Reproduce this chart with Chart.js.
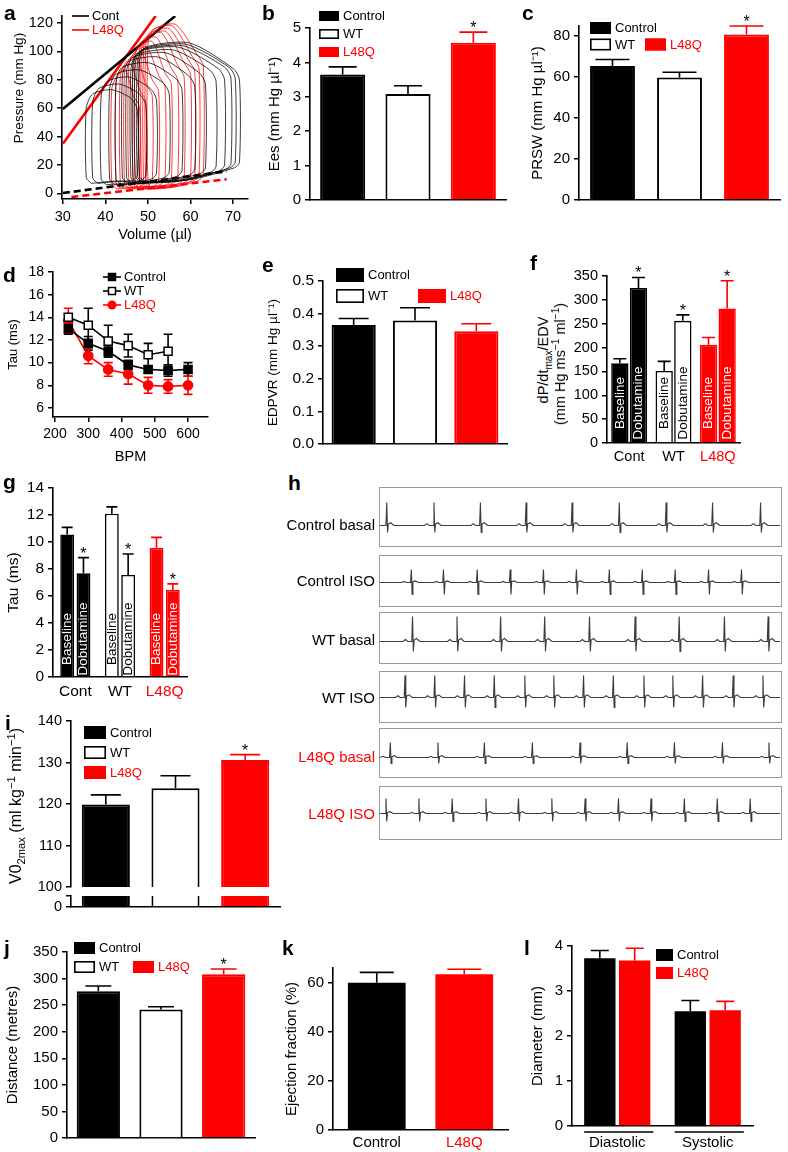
<!DOCTYPE html>
<html>
<head>
<meta charset="utf-8">
<title>L48Q cardiac function</title>
<script src="https://cdn.jsdelivr.net/npm/chart.js@4.4.1/dist/chart.umd.min.js"></script>
<style>
  html, body { margin: 0; padding: 0; background: #fff; }
  body { position: relative; width: 788px; height: 1152px; overflow: hidden;
         font-family: "Liberation Sans", Arial, Helvetica, sans-serif; color: #000; }
  .letter { position: absolute; font-weight: bold; font-size: 21px; line-height: 21px; }
  .vtitle { position: absolute; white-space: nowrap; transform: translate(-50%, -50%) rotate(-90deg); }
  .vtitle sub, .vtitle sup { font-size: 70%; line-height: 0; }
  .ecgbox { position: absolute; border: 1.5px solid #9a9a9a; box-sizing: border-box; }
  .ecgbox canvas { position: absolute; left: 0; top: 0; }
  .ecglabel { position: absolute; left: 0; width: 375px; text-align: right; font-size: 15px; line-height: 18px; white-space: nowrap; }
</style>
</head>
<body>
<script>
const FONT = '"Liberation Sans", Arial, Helvetica, sans-serif';
const RED = '#ff0000';

// shared groups
const groups = ['Control', 'WT', 'L48Q'];
const groupShort = ['Cont', 'WT', 'L48Q'];
const groupFill = ['#000000', '#ffffff', RED];
const groupEdge = ['#000000', '#000000', RED];
const groupInk = ['#000000', '#000000', RED];

// a: PV loops (one entry per loop) and fitted relations
const contESV = [48, 47.5, 47, 46.5, 46, 45, 44, 42.5, 41, 39, 37, 35.5];
const contEDV = [71.5, 70.5, 69.5, 68, 66, 63.5, 61, 58, 55, 52, 49.5, 47.5];
const contESP = [103, 102, 101, 100, 98, 96, 93, 89, 84, 79, 74, 70];
const contOpen = [85, 86, 86, 85, 84, 82, 80, 78, 75, 71, 67, 64];
const contEDP = [19, 19, 18, 17, 16, 15, 14, 13, 12, 11, 10, 10];
const contMin = [8, 8, 8, 7, 7, 7, 7, 6, 6, 6, 7, 7];
const l48qESV = [50, 49.5, 49, 48.5, 48, 47, 46.5, 45.5, 44.5, 43.5, 42.5, 41.5];
const l48qEDV = [63, 62, 61, 60, 58.5, 57, 55.5, 54, 52.5, 51, 49.5, 48];
const l48qESP = [116, 115, 113, 111, 110, 107, 104, 100, 96, 93, 88, 84];
const l48qOpen = [95, 93, 91, 89, 87, 85, 82, 80, 77, 74, 70, 66];
const l48qEDP = [10, 10, 9, 9, 8, 8, 7, 7, 6, 6, 6, 5];
const l48qMin = [3, 3, 3, 3, 3, 3, 3, 3, 3, 3, 3, 3];
const espvrContV = [30, 56.4], espvrContP = [59.5, 125];
const espvrL48qV = [30, 51.8], espvrL48qP = [35, 125];
const edpvrContV = [30, 68.5], edpvrContP = [0.2, 15.5];
const edpvrL48qV = [32, 68.5], edpvrL48qP = [-2.6, 9.9];
const pvVolTicks = [30, 40, 50, 60, 70];
const pvPresTicks = [0, 20, 40, 60, 80, 100, 120];

// b
const eesMean = [3.65, 3.08, 4.57], eesErr = [0.22, 0.24, 0.31], eesSig = [false, false, true];
const eesTicks = [0, 1, 2, 3, 4, 5];
// c
const prswMean = [65.4, 59.8, 80.8], prswErr = [3.2, 2.6, 4.2], prswSig = [false, false, true];
const prswTicks = [0, 20, 40, 60, 80];
// d
const bpm = [240, 300, 360, 420, 480, 540, 600];
const tauCont = [13.0, 11.7, 11.0, 9.8, 9.4, 9.3, 9.4];
const tauContErr = [0.5, 0.6, 0.5, 0.4, 0.3, 0.5, 0.6];
const tauWT = [14.0, 13.3, 11.9, 11.5, 10.7, 11.0];
const tauWTErr = [0.3, 1.5, 1.4, 1.0, 1.0, 1.5];
const tauL48q = [13.7, 10.6, 9.4, 9.0, 8.0, 7.9, 8.0];
const tauL48qErr = [1.1, 0.7, 0.6, 0.9, 0.7, 0.6, 0.8];
const tauTicks = [6, 8, 10, 12, 14, 16, 18];
const bpmTicks = [200, 300, 400, 500, 600];
// e
const edpvrMean = [0.365, 0.379, 0.346], edpvrErr = [0.020, 0.039, 0.023];
const edpvrTicks = [0, 0.1, 0.2, 0.3, 0.4, 0.5];
const edpvrTickLabels = ['0.0', '0.1', '0.2', '0.3', '0.4', '0.5'];
// f
const dpdtBase = [167, 151, 206], dpdtBaseErr = [9.5, 20, 15];
const dpdtDob = [325, 256, 282], dpdtDobErr = [22, 12.5, 58];
const dpdtTicks = [0, 50, 100, 150, 200, 250, 300, 350];
// g
const tauBase = [10.56, 12.1, 9.57], tauBaseErr = [0.52, 0.5, 0.77];
const tauDob = [7.68, 7.56, 6.45], tauDobErr = [1.16, 1.55, 0.45];
const tauGTicks = [0, 2, 4, 6, 8, 10, 12, 14];
// h: R-peak times (ms) in each 1 s strip, R and S amplitudes
const ecgRows = ['Control basal', 'Control ISO', 'WT basal', 'WT ISO', 'L48Q basal', 'L48Q ISO'];
const ecgBeats = [
  [17, 136, 253, 368, 484, 603, 721, 838, 959],
  [79, 160, 245, 328, 412, 495, 578, 661, 744, 828, 911],
  [82, 194, 304, 415, 528, 643, 754, 868, 978],
  [63, 138, 213, 288, 365, 438, 513, 588, 665, 738, 813, 890, 965],
  [26, 146, 263, 384, 504, 623, 742, 863, 980],
  [15, 98, 182, 267, 349, 433, 517, 601, 683, 767, 850, 933]
];
const ecgUp = [23, 13, 25, 22, 15, 15];
const ecgDown = [7, 12, 10, 10, 6, 8];
// i
const vo2Mean = [119.9, 123.8, 130.6], vo2Err = [2.3, 3.0, 1.3], vo2Sig = [false, false, true];
const vo2Ticks = [100, 110, 120, 130, 140];
// j
const distMean = [276, 242, 308], distErr = [10, 5, 10], distSig = [false, false, true];
const distTicks = [0, 50, 100, 150, 200, 250, 300, 350];
// k
const efGroups = ['Control', 'L48Q'];
const efMean = [60, 63.5], efErr = [4.2, 2.0];
const efTicks = [0, 20, 40, 60];
// l
const diamPhase = ['Diastolic', 'Systolic'];
const diamCont = [3.73, 2.55], diamContErr = [0.17, 0.24];
const diamL48q = [3.68, 2.57], diamL48qErr = [0.27, 0.20];
const diamTicks = [0, 1, 2, 3, 4];

Chart.defaults.font.family = FONT;
Chart.defaults.color = '#000';
Chart.defaults.animation = false;
Chart.defaults.responsive = false;
Chart.defaults.events = [];
Chart.defaults.plugins.legend.display = false;
Chart.defaults.plugins.tooltip.enabled = false;

// error bars + significance stars, drawn under the marks
Chart.register({
  id: 'errorBars',
  beforeDatasetsDraw(chart) {
    const ctx = chart.ctx, ys = chart.scales.y;
    chart.data.datasets.forEach((ds, di) => {
      if (!ds.errors) return;
      chart.getDatasetMeta(di).data.forEach((el, i) => {
        const e = ds.errors[i];
        if (e == null) return;
        const raw = ds.data[i];
        const v = typeof raw === 'object' ? raw.y : raw;
        const col = Array.isArray(ds.errorColor) ? ds.errorColor[i] : ds.errorColor;
        const yTop = ys.getPixelForValue(v + e);
        const yBot = ds.errorBoth ? ys.getPixelForValue(v - e) : el.y;
        const half = ds.capWidth / 2;
        ctx.save();
        ctx.strokeStyle = col;
        ctx.lineWidth = 1.6;
        ctx.beginPath();
        ctx.moveTo(el.x, yBot); ctx.lineTo(el.x, yTop);
        ctx.moveTo(el.x - half, yTop); ctx.lineTo(el.x + half, yTop);
        if (ds.errorBoth) { ctx.moveTo(el.x - half, yBot); ctx.lineTo(el.x + half, yBot); }
        ctx.stroke();
        if (ds.stars && ds.stars[i]) {
          ctx.fillStyle = '#000';
          ctx.font = '16px ' + FONT;
          ctx.textAlign = 'center';
          ctx.textBaseline = 'alphabetic';
          ctx.fillText('*', el.x, yTop + 1);
        }
        ctx.restore();
      });
    });
  }
});

// rotated dataset names inside bars (panels f, g)
Chart.register({
  id: 'barText',
  afterDatasetsDraw(chart, args, opts) {
    if (!opts.on) return;
    const ctx = chart.ctx, base = chart.chartArea.bottom;
    chart.data.datasets.forEach((ds, di) => {
      chart.getDatasetMeta(di).data.forEach((el, i) => {
        const fill = Array.isArray(ds.backgroundColor) ? ds.backgroundColor[i] : ds.backgroundColor;
        ctx.save();
        ctx.translate(el.x, base - opts.lift);
        ctx.rotate(-Math.PI / 2);
        ctx.font = opts.size + 'px ' + FONT;
        ctx.fillStyle = fill === '#ffffff' ? '#000' : '#fff';
        ctx.textAlign = 'center';
        ctx.textBaseline = 'middle';
        ctx.fillText(ds.label, 0, 0);
        ctx.restore();
      });
    });
  }
});

// underline under each group of bars (panel l)
Chart.register({
  id: 'underline',
  afterDraw(chart, args, opts) {
    if (!opts.on) return;
    const ctx = chart.ctx, n = chart.data.datasets.length;
    const first = chart.getDatasetMeta(0).data, last = chart.getDatasetMeta(n - 1).data;
    const y = chart.chartArea.bottom + opts.gap;
    ctx.save();
    ctx.strokeStyle = '#000';
    ctx.lineWidth = 1.6;
    first.forEach((el, i) => {
      ctx.beginPath();
      ctx.moveTo(el.x - el.width / 2, y);
      ctx.lineTo(last[i].x + last[i].width / 2 + 3, y);
      ctx.stroke();
    });
    ctx.restore();
  }
});

// keys placed at page coordinates
Chart.register({
  id: 'key',
  afterDraw(chart, args, opts) {
    if (!opts.items) return;
    const ctx = chart.ctx, r = chart.canvas.getBoundingClientRect();
    ctx.save();
    ctx.font = '13px ' + FONT;
    ctx.textBaseline = 'middle';
    opts.items.forEach(it => {
      const x = it.x - r.left, y = it.y - r.top;
      if (it.kind === 'box') {
        ctx.fillStyle = it.fill;
        ctx.fillRect(x, y, it.w, it.h);
        ctx.strokeStyle = it.stroke;
        ctx.lineWidth = 1.6;
        ctx.strokeRect(x + 0.8, y + 0.8, it.w - 1.6, it.h - 1.6);
        ctx.fillStyle = it.color;
        ctx.fillText(it.text, x + it.w + 4, y + it.h / 2 + 0.5);
      } else {
        ctx.strokeStyle = it.stroke;
        ctx.lineWidth = 1.6;
        ctx.beginPath(); ctx.moveTo(x, y); ctx.lineTo(x + it.w, y); ctx.stroke();
        const mx = x + it.w / 2;
        if (it.marker === 'rect') {
          ctx.fillStyle = it.fill;
          ctx.fillRect(mx - 4, y - 4, 8, 8);
          ctx.lineWidth = 1.5;
          ctx.strokeRect(mx - 3.5, y - 3.5, 7, 7);
        } else if (it.marker === 'circle') {
          ctx.fillStyle = it.fill;
          ctx.beginPath(); ctx.arc(mx, y, 4.5, 0, Math.PI * 2); ctx.fill();
        }
        ctx.fillStyle = it.color;
        ctx.fillText(it.text, x + it.w + 3, y + 0.5);
      }
    });
    ctx.restore();
  }
});

function mount(f, type, data, options) {
  const left = f.L - f.yw, top = f.T - f.pt;
  const w = Math.round(f.R + f.pr - left), h = Math.round(f.B + f.xh - top);
  const cv = document.createElement('canvas');
  cv.width = w; cv.height = h;
  Object.assign(cv.style, {position: 'absolute', left: left + 'px', top: top + 'px', width: w + 'px', height: h + 'px'});
  document.body.appendChild(cv);
  options.layout = {padding: {top: f.pt, right: f.pr, left: 0, bottom: 0}};
  options.scales.y.afterFit = s => { s.width = f.yw; s.paddingTop = 0; s.paddingBottom = 0; };
  options.scales.x.afterFit = s => { s.height = f.xh; s.paddingLeft = 0; s.paddingRight = 0; };
  return new Chart(cv, {type, data, options});
}

function valueAxis(min, max, values, size, title, titleSize, labels) {
  return {
    type: 'linear', min, max,
    afterBuildTicks: s => { s.ticks = values.map(v => ({value: v})); },
    ticks: {font: {size}, color: '#000', padding: 4, autoSkip: false,
            callback: (v, i) => labels ? labels[i] : String(values[i])},
    grid: {display: true, drawOnChartArea: false, drawTicks: true, tickLength: 5, color: '#000', lineWidth: 1.5},
    border: {display: true, color: '#000', width: 1.6},
    title: title ? {display: true, text: title, font: {size: titleSize}, color: '#000', padding: 0} : {display: false}
  };
}

function groupAxis(labelSize, inks, pad) {
  return {
    type: 'category', offset: true,
    grid: {display: false, drawTicks: false},
    border: {display: true, color: '#000', width: 1.6},
    ticks: labelSize ? {display: true, font: {size: labelSize}, padding: pad, autoSkip: false, maxRotation: 0,
                        color: c => inks[c.index]} : {display: false}
  };
}

function boxKey(idx, pos, w, h) {
  return idx.map((g, k) => ({kind: 'box', x: pos[k][0], y: pos[k][1], w, h,
    fill: groupFill[g], stroke: groupEdge[g], color: groupInk[g], text: groups[g]}));
}

function groupBars(values, errs, sig, cap, pct) {
  return {data: values, errors: errs, stars: sig, errorColor: groupEdge, capWidth: cap,
          backgroundColor: groupFill, borderColor: groupEdge, borderWidth: 2, borderSkipped: 'start',
          barPercentage: pct, categoryPercentage: 1};
}

function loopPath(esv, edv, esp, open, edp, pmin) {
  const mid = (esv + edv) / 2;
  return [
    {x: esv + 1.2, y: pmin}, {x: mid, y: pmin + 1.5}, {x: edv - 1.2, y: edp - 1},
    {x: edv, y: edp + 3}, {x: edv, y: open - 5}, {x: edv - 1.5, y: open + 3},
    {x: mid, y: esp + 3}, {x: esv + 1.5, y: esp}, {x: esv, y: esp - 10},
    {x: esv, y: pmin + 4}, {x: esv + 1.2, y: pmin}
  ];
}

// ---------- a ----------
const pvSets = [];
contESV.forEach((v, i) => pvSets.push({data: loopPath(v, contEDV[i], contESP[i], contOpen[i], contEDP[i], contMin[i]),
  showLine: true, borderColor: 'rgba(0,0,0,0.85)', borderWidth: 0.9, pointRadius: 0, tension: 0.25}));
l48qESV.forEach((v, i) => pvSets.push({data: loopPath(v, l48qEDV[i], l48qESP[i], l48qOpen[i], l48qEDP[i], l48qMin[i]),
  showLine: true, borderColor: 'rgba(255,0,0,0.85)', borderWidth: 0.9, pointRadius: 0, tension: 0.25}));
const relLine = (V, P, col, dash) => ({data: V.map((v, i) => ({x: v, y: P[i]})), showLine: true,
  borderColor: col, borderWidth: 2.6, borderDash: dash, pointRadius: 0});
pvSets.push(relLine(edpvrContV, edpvrContP, '#000', [7, 4]), relLine(edpvrL48qV, edpvrL48qP, RED, [7, 4]),
            relLine(espvrContV, espvrContP, '#000', []), relLine(espvrL48qV, espvrL48qP, RED, []));
mount({L: 62, T: 16, R: 248, B: 199, yw: 52, xh: 45, pt: 12, pr: 8}, 'scatter', {datasets: pvSets}, {
  scales: {
    x: valueAxis(29.8, 73.5, pvVolTicks, 14.5, 'Volume (µl)', 14.5),
    y: valueAxis(-4, 125, pvPresTicks, 14.5)
  },
  plugins: {key: {items: [
    {kind: 'line', x: 72, y: 16, w: 17, stroke: '#000', color: '#000', text: 'Cont'},
    {kind: 'line', x: 72, y: 30, w: 17, stroke: RED, color: RED, text: 'L48Q'}
  ]}}
});

// ---------- b ----------
mount({L: 310, T: 28, R: 506, B: 200, yw: 44, xh: 11, pt: 28, pr: 4}, 'bar',
  {labels: groups, datasets: [groupBars(eesMean, eesErr, eesSig, 28, 0.69)]}, {
  scales: {x: groupAxis(0), y: valueAxis(0, 5, eesTicks, 15, 'Ees (mm Hg µl⁻¹)', 15)},
  plugins: {key: {items: boxKey([0, 1, 2], [[319, 11], [319, 29], [319, 47]], 20, 10)}}
});

// ---------- c ----------
mount({L: 579, T: 26, R: 780, B: 200, yw: 50, xh: 11, pt: 26, pr: 5}, 'bar',
  {labels: groups, datasets: [groupBars(prswMean, prswErr, prswSig, 34, 0.67)]}, {
  scales: {x: groupAxis(0), y: valueAxis(0, 85, prswTicks, 15, 'PRSW (mm Hg µl⁻¹)', 15)},
  plugins: {key: {items: boxKey([0, 1, 2], [[590, 22], [590, 38.5], [645, 38.5]], 21, 12)}}
});

// ---------- d ----------
const tauLine = (vals, errs, col, style, fill) => ({
  data: vals.map((v, i) => ({x: bpm[i], y: v})), errors: errs, errorBoth: true, errorColor: col, capWidth: 9,
  showLine: true, borderColor: col, borderWidth: 1.6, pointStyle: style, pointRadius: style === 'rect' ? 5.7 : 4.6,
  pointBackgroundColor: fill, pointBorderColor: col, pointBorderWidth: 1.5
});
mount({L: 53, T: 272, R: 208, B: 417, yw: 47, xh: 49, pt: 12, pr: 10}, 'scatter', {datasets: [
  tauLine(tauCont, tauContErr, '#000', 'rect', '#000'),
  tauLine(tauWT, tauWTErr, '#000', 'rect', '#fff'),
  tauLine(tauL48q, tauL48qErr, RED, 'circle', RED)
]}, {
  scales: {
    x: valueAxis(194, 660, bpmTicks, 14, 'BPM', 14.5),
    y: valueAxis(5.2, 18, tauTicks, 14, 'Tau (ms)', 13)
  },
  plugins: {key: {items: [
    {kind: 'line', x: 103, y: 277, w: 18, stroke: '#000', fill: '#000', marker: 'rect', color: '#000', text: groups[0]},
    {kind: 'line', x: 103, y: 291, w: 18, stroke: '#000', fill: '#fff', marker: 'rect', color: '#000', text: groups[1]},
    {kind: 'line', x: 103, y: 305, w: 18, stroke: RED, fill: RED, marker: 'circle', color: RED, text: groups[2]}
  ]}}
});

// ---------- e ----------
mount({L: 323, T: 281, R: 507, B: 444, yw: 58, xh: 11, pt: 21, pr: 5}, 'bar',
  {labels: groups, datasets: [groupBars(edpvrMean, edpvrErr, null, 30, 0.72)]}, {
  scales: {x: groupAxis(0), y: valueAxis(0, 0.5, edpvrTicks, 15.5, 'EDPVR (mm Hg µl⁻¹)', 13.5, edpvrTickLabels)},
  plugins: {key: {items: boxKey([0, 1, 2], [[336, 268], [336, 289], [418, 289]], 28, 14)}}
});

// ---------- f ----------
const pairBars = (label, vals, errs, sig, cap, bp, cp) => ({label, data: vals, errors: errs, stars: sig,
  errorColor: groupEdge, capWidth: cap, backgroundColor: groupFill, borderColor: groupEdge, borderWidth: 1.6,
  borderSkipped: 'start', barPercentage: bp, categoryPercentage: cp});
mount({L: 607, T: 276, R: 740, B: 443, yw: 40, xh: 26, pt: 20, pr: 5}, 'bar', {labels: groupShort, datasets: [
  pairBars('Baseline', dpdtBase, dpdtBaseErr, [false, false, false], 13, 0.93, 0.84),
  pairBars('Dobutamine', dpdtDob, dpdtDobErr, [true, true, true], 13, 0.93, 0.84)
]}, {
  scales: {x: groupAxis(14.5, groupInk, 5), y: valueAxis(0, 350, dpdtTicks, 14.5)},
  plugins: {barText: {on: true, lift: 40, size: 13.5}}
});

// ---------- g ----------
mount({L: 53, T: 488, R: 187, B: 677, yw: 49, xh: 26, pt: 12, pr: 5}, 'bar', {labels: groupShort, datasets: [
  pairBars('Baseline', tauBase, tauBaseErr, [false, false, false], 11, 0.85, 0.73),
  pairBars('Dobutamine', tauDob, tauDobErr, [true, true, true], 11, 0.85, 0.73)
]}, {
  scales: {x: groupAxis(15.5, groupInk, 5), y: valueAxis(0, 14, tauGTicks, 15.5, 'Tau (ms)', 15.5)},
  plugins: {barText: {on: true, lift: 38, size: 13.5}}
});

// ---------- i (broken axis: upper and lower segments) ----------
mount({L: 71, T: 721, R: 280, B: 887, yw: 41, xh: 9, pt: 10, pr: 5}, 'bar',
  {labels: groups, datasets: [groupBars(vo2Mean, vo2Err, vo2Sig, 30, 0.69)]}, {
  scales: {x: Object.assign(groupAxis(0), {border: {display: false}}), y: valueAxis(100, 140, vo2Ticks, 14.5)},
  plugins: {key: {items: boxKey([0, 1, 2], [[84, 726], [84, 746], [84, 766]], 22, 13)}}
});
mount({L: 71, T: 896, R: 280, B: 907, yw: 41, xh: 10, pt: 3, pr: 5}, 'bar',
  {labels: groups, datasets: [groupBars(vo2Mean, null, null, 0, 0.69)]}, {
  scales: {x: groupAxis(0), y: valueAxis(0, 10, [0, 10], 14.5, null, 0, ['0', ''])}
});

// ---------- j ----------
mount({L: 67, T: 952, R: 255, B: 1138, yw: 63, xh: 12, pt: 17, pr: 5}, 'bar',
  {labels: groups, datasets: [groupBars(distMean, distErr, distSig, 26, 0.69)]}, {
  scales: {x: groupAxis(0), y: valueAxis(0, 350, distTicks, 15, 'Distance (metres)', 15)},
  plugins: {key: {items: boxKey([0, 1, 2], [[74, 942], [74, 961], [133, 961]], 21, 12)}}
});

// ---------- k ----------
mount({L: 333, T: 968, R: 508, B: 1130, yw: 50, xh: 22, pt: 10, pr: 5}, 'bar', {labels: efGroups, datasets: [{
  data: efMean, errors: efErr, errorColor: ['#000', RED], capWidth: 34,
  backgroundColor: ['#000', RED], borderColor: ['#000', RED], borderWidth: 0, barPercentage: 0.66, categoryPercentage: 1
}]}, {
  scales: {x: groupAxis(15, ['#000', RED], 4), y: valueAxis(0, 66, efTicks, 15, 'Ejection fraction (%)', 15)}
});

// ---------- l ----------
mount({L: 572, T: 946, R: 753, B: 1126, yw: 43, xh: 26, pt: 10, pr: 5}, 'bar', {labels: diamPhase, datasets: [
  {label: groups[0], data: diamCont, errors: diamContErr, errorColor: '#000', capWidth: 18, backgroundColor: '#000',
   borderWidth: 0, barPercentage: 0.9, categoryPercentage: 0.77},
  {label: groups[2], data: diamL48q, errors: diamL48qErr, errorColor: RED, capWidth: 18, backgroundColor: RED,
   borderWidth: 0, barPercentage: 0.9, categoryPercentage: 0.77}
]}, {
  scales: {x: groupAxis(15, ['#000', '#000'], 8), y: valueAxis(0, 4, diamTicks, 15, 'Diameter (mm)', 15)},
  plugins: {underline: {on: true, gap: 6}, key: {items: boxKey([0, 2], [[656, 949], [656, 967]], 17, 12)}}
});

// ---------- h: ECG strips ----------
const ecgBox = [[487, 547, 526], [555, 607, 583], [612, 664, 642], [671, 723, 698], [728, 778, 758], [786, 840, 814]];
const ecgInk = ['#000', '#000', '#000', '#000', RED, RED];
function ecgTrace(beats, up, down) {
  const pts = [{x: 0, y: 0}];
  beats.forEach(t => {
    pts.push({x: t - 24, y: 0}, {x: t - 18, y: up * 0.08}, {x: t - 12, y: 0}, {x: t - 2, y: 0},
      {x: t, y: up}, {x: t + 2, y: -down}, {x: t + 4, y: up * 0.06}, {x: t + 10, y: up * 0.12}, {x: t + 18, y: 0});
  });
  pts.push({x: 1008, y: 0});
  return pts.filter(p => p.x >= 0 && p.x <= 1008);
}
ecgRows.forEach((name, r) => {
  const [top, bottom, base] = ecgBox[r];
  const box = document.createElement('div');
  box.className = 'ecgbox';
  Object.assign(box.style, {left: '379px', top: top + 'px', width: '403px', height: (bottom - top) + 'px'});
  const cv = document.createElement('canvas');
  cv.width = 400; cv.height = bottom - top - 3;
  box.appendChild(cv);
  document.body.appendChild(box);
  new Chart(cv, {type: 'scatter', data: {datasets: [{data: ecgTrace(ecgBeats[r], ecgUp[r], ecgDown[r]),
    showLine: true, borderColor: '#3c3c3c', borderWidth: 1.1, pointRadius: 0}]},
    options: {layout: {padding: 0}, scales: {
      x: {type: 'linear', display: false, min: 0, max: 1008},
      y: {type: 'linear', display: false, min: -(bottom - base - 1.5), max: base - top - 1.5}
    }}});
  const lab = document.createElement('div');
  lab.className = 'ecglabel';
  lab.style.top = ([525, 581, 640, 698, 757, 814][r] - 9) + 'px';
  lab.style.color = ecgInk[r];
  lab.textContent = name;
  document.body.appendChild(lab);
});

// ---------- HTML titles with sub/superscripts ----------
function vtitle(html, cx, cy, size) {
  const d = document.createElement('div');
  d.className = 'vtitle';
  Object.assign(d.style, {left: cx + 'px', top: cy + 'px', fontSize: size + 'px'});
  d.innerHTML = html;
  document.body.appendChild(d);
}
vtitle('Pressure (mm Hg)', 18, 88, 13.5);
vtitle('dP/dt<sub>max</sub>/EDV', 543, 360, 14.5);
vtitle('(mm Hg ms<sup>−1</sup> ml<sup>−1</sup>)', 560, 364, 14.5);
vtitle('V0<sub>2max</sub> (ml kg<sup>−1</sup> min<sup>−1</sup>)', 16, 806, 16);

// ---------- panel letters ----------
[['a', 4, 20], ['b', 262, 20], ['c', 522, 20], ['d', 3, 282], ['e', 262, 272], ['f', 530, 270],
 ['g', 3, 489], ['h', 288, 490], ['i', 5, 730], ['j', 4, 955], ['k', 282, 955], ['l', 524, 955]].forEach(([t, x, y]) => {
  const d = document.createElement('div');
  d.className = 'letter';
  d.style.left = x + 'px';
  d.style.top = (y - 17.8) + 'px';
  d.textContent = t;
  document.body.appendChild(d);
});
</script>
</body>
</html>
